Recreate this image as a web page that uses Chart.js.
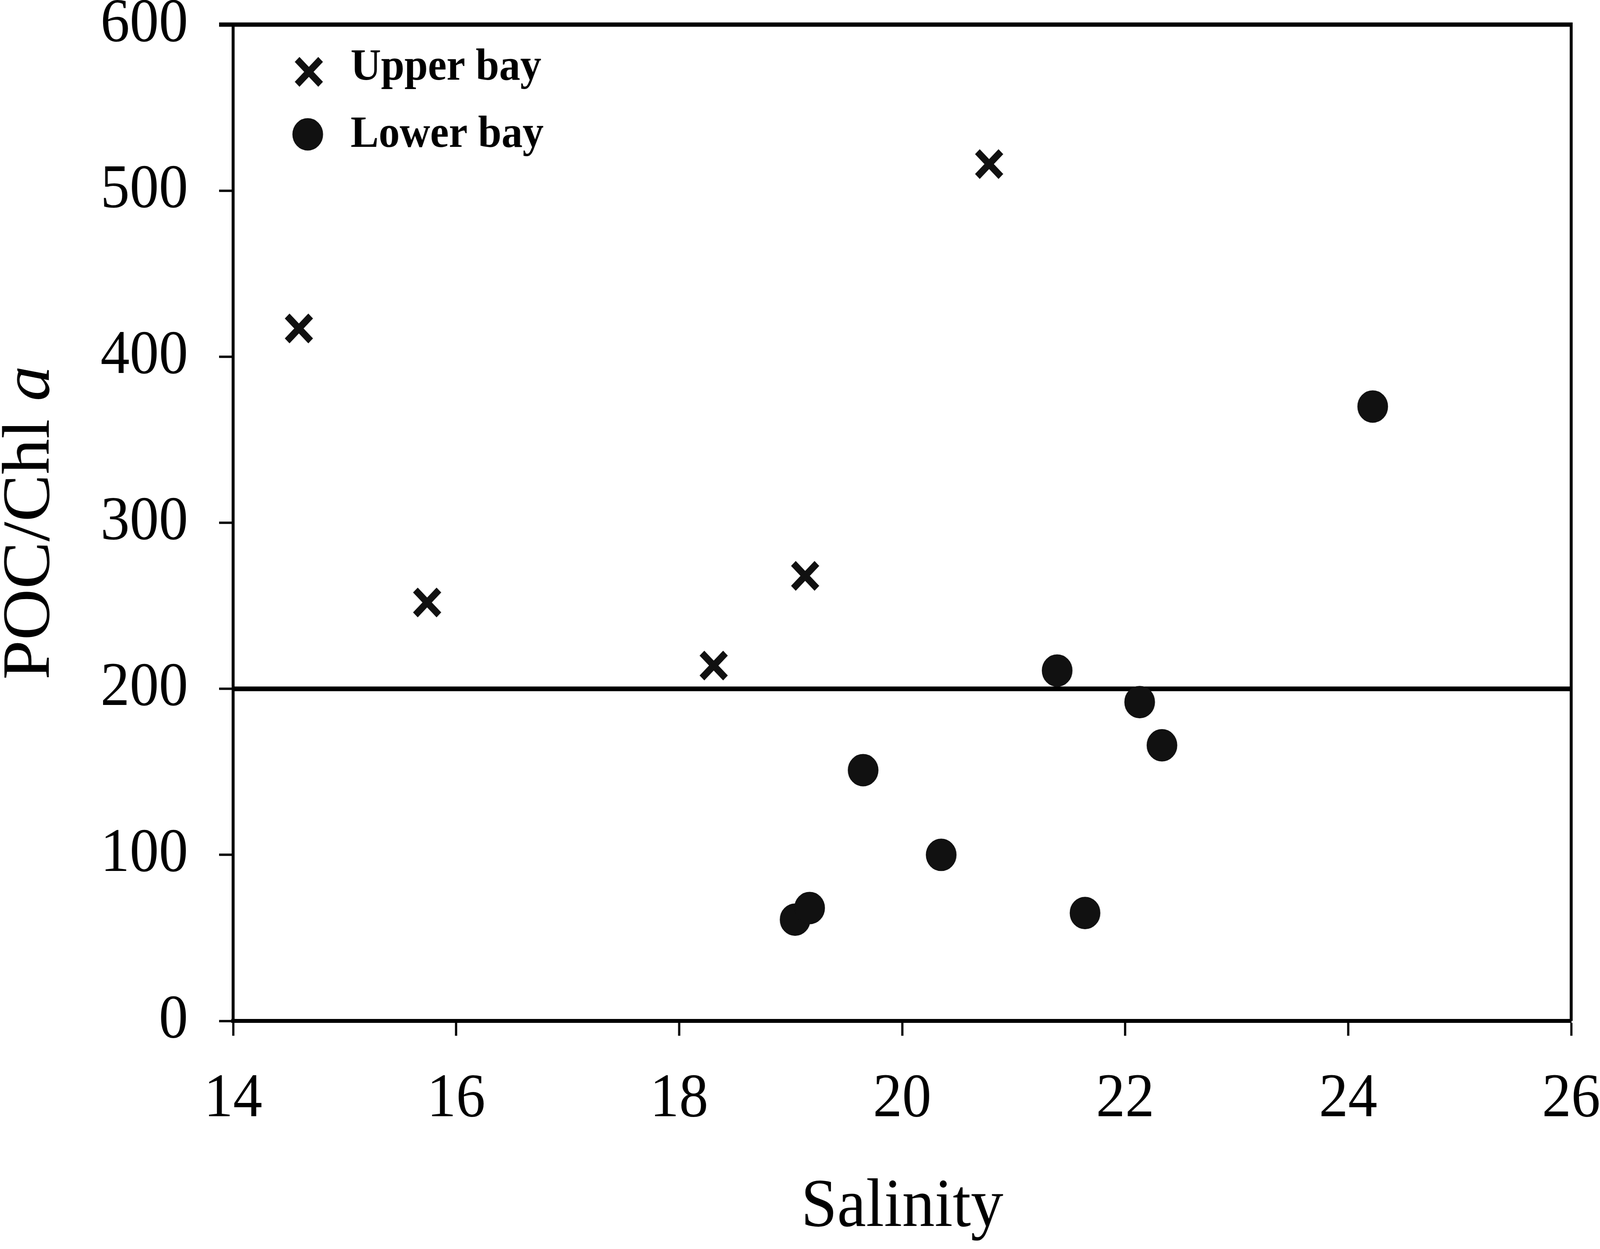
<!DOCTYPE html>
<html lang="en">
<head>
<meta charset="UTF-8">
<title>POC/Chl a vs Salinity</title>
<script src="https://cdn.jsdelivr.net/npm/chart.js"></script>
<style>
  html, body { margin: 0; padding: 0; background: #fff; overflow: hidden; }
</style>
</head>
<body>
<canvas id="grafico" width="4331" height="3198" style="display: block; width: 100vw; height: 100vh;"></canvas>

<script>
// data
const upperLabel = 'Upper bay'
const upperSalinity = [14.59, 15.74, 18.31, 19.13, 20.78]
const upperRatio = [417, 252, 214, 268, 516]

const lowerLabel = 'Lower bay'
const lowerSalinity = [19.04, 19.17, 19.65, 20.35, 21.39, 21.64, 22.13, 22.33, 24.22]
const lowerRatio = [61, 68, 151, 100, 211, 65, 192, 166, 370]

const refLineY = 200
const xTicks = [14, 16, 18, 20, 22, 24, 26]
const yTicks = [0, 100, 200, 300, 400, 500, 600]

const serif = '"Liberation Serif", "Times New Roman", serif'
const ink = '#111'

const toPoints = (xs, ys) => xs.map((x, i) => ({ x: x, y: ys[i] }))

// top and right edge of the frame
const framePlugin = {
    id: 'frame',
    afterDraw(chart) {
        const { ctx, chartArea: a } = chart
        ctx.save()
        ctx.strokeStyle = '#000'
        ctx.lineWidth = 11
        ctx.beginPath()
        ctx.moveTo(a.left - 38, a.top)
        ctx.lineTo(a.right + 4, a.top)
        ctx.stroke()
        ctx.lineWidth = 8
        ctx.beginPath()
        ctx.moveTo(a.right, a.top)
        ctx.lineTo(a.right, a.bottom)
        ctx.stroke()
        ctx.restore()
    }
}

// legend sits inside the plot, top-left
const legendPlugin = {
    id: 'insideLegend',
    afterDraw(chart) {
        const { ctx, chartArea: a } = chart
        const rows = [
            { ds: 0, mx: a.left + 205, my: a.top + 121, ty: a.top + 141 },
            { ds: 1, mx: a.left + 202, my: a.top + 281, ty: a.top + 313 }
        ]
        ctx.save()
        rows.forEach(r => {
            const ds = chart.data.datasets[r.ds]
            ctx.fillStyle = ink
            ctx.strokeStyle = ink
            ctx.lineWidth = ds.pointBorderWidth
            Chart.helpers.drawPoint(ctx, {
                pointStyle: ds.pointStyle,
                rotation: 0,
                radius: ds.pointRadius,
                borderWidth: ds.pointBorderWidth
            }, r.mx, r.my)
            ctx.fillStyle = '#000'
            ctx.font = 'bold 114px ' + serif
            ctx.textBaseline = 'alphabetic'
            ctx.textAlign = 'left'
            ctx.fillText(ds.label, a.left + 318, r.ty)
        })
        ctx.restore()
    }
}

// y title with italic "a"
const yTitlePlugin = {
    id: 'yTitle',
    afterDraw(chart) {
        const { ctx, chartArea: a } = chart
        const cy = (a.top + a.bottom) / 2
        const normal = '182px ' + serif
        const italic = 'italic 182px ' + serif
        ctx.save()
        ctx.translate(132, cy)
        ctx.rotate(-Math.PI / 2)
        ctx.fillStyle = '#000'
        ctx.textBaseline = 'alphabetic'
        ctx.textAlign = 'left'
        ctx.font = normal
        const w1 = ctx.measureText('POC/Chl ').width
        ctx.font = italic
        const w2 = ctx.measureText('a').width
        let x0 = -(w1 + w2) / 2
        ctx.font = normal
        ctx.fillText('POC/Chl ', x0, 0)
        ctx.font = italic
        ctx.fillText('a', x0 + w1, 0)
        ctx.restore()
    }
}

const ctx = document.getElementById('grafico')

let grafico = new Chart(ctx, {
    type: 'scatter',
    data: {
        datasets: [
            {
                label: upperLabel,
                data: toPoints(upperSalinity, upperRatio),
                pointStyle: 'crossRot',
                pointRadius: 45,
                pointBorderWidth: 18,
                borderColor: ink,
                backgroundColor: ink,
                order: 1
            },
            {
                label: lowerLabel,
                data: toPoints(lowerSalinity, lowerRatio),
                pointStyle: 'circle',
                pointRadius: 40,
                pointBorderWidth: 3,
                borderColor: ink,
                backgroundColor: ink,
                order: 1
            },
            {
                type: 'line',
                label: 'ref',
                data: [{ x: xTicks[0], y: refLineY }, { x: xTicks[xTicks.length - 1], y: refLineY }],
                borderColor: '#000',
                borderWidth: 12,
                pointRadius: 0,
                fill: false,
                order: 3
            }
        ]
    },
    options: {
        responsive: false,
        devicePixelRatio: 1,
        animation: false,
        events: [],
        layout: { padding: { top: 54, right: 78, left: 0, bottom: 0 } },
        plugins: {
            legend: { display: false },
            tooltip: { enabled: false }
        },
        scales: {
            x: {
                type: 'linear',
                min: xTicks[0],
                max: xTicks[xTicks.length - 1],
                afterBuildTicks: s => { s.ticks = xTicks.map(v => ({ value: v })) },
                ticks: {
                    font: { family: serif, size: 158 },
                    color: '#000',
                    padding: 70,
                    maxRotation: 0
                },
                grid: {
                    display: true,
                    drawOnChartArea: false,
                    drawTicks: true,
                    tickLength: 38,
                    tickWidth: 6,
                    tickColor: '#000'
                },
                border: { display: true, color: '#000', width: 10 },
                title: {
                    display: true,
                    text: 'Salinity',
                    color: '#000',
                    font: { family: serif, size: 176 },
                    padding: { top: 0, bottom: 0 }
                },
                afterFit: s => {
                    s.height = 584
                    s.paddingLeft = 0
                    s.paddingRight = 0
                }
            },
            y: {
                type: 'linear',
                min: yTicks[0],
                max: yTicks[yTicks.length - 1],
                afterBuildTicks: s => { s.ticks = yTicks.map(v => ({ value: v })) },
                ticks: {
                    font: { family: serif, size: 158 },
                    color: '#000',
                    padding: 84
                },
                grid: {
                    display: true,
                    drawOnChartArea: false,
                    drawTicks: true,
                    tickLength: 38,
                    tickWidth: 6,
                    tickColor: '#000'
                },
                border: { display: true, color: '#000', width: 8 },
                title: { display: false },
                afterFit: s => {
                    s.width = 631
                    s.paddingTop = 0
                    s.paddingBottom = 0
                }
            }
        }
    },
    plugins: [framePlugin, legendPlugin, yTitlePlugin]
})
</script>
</body>
</html>
